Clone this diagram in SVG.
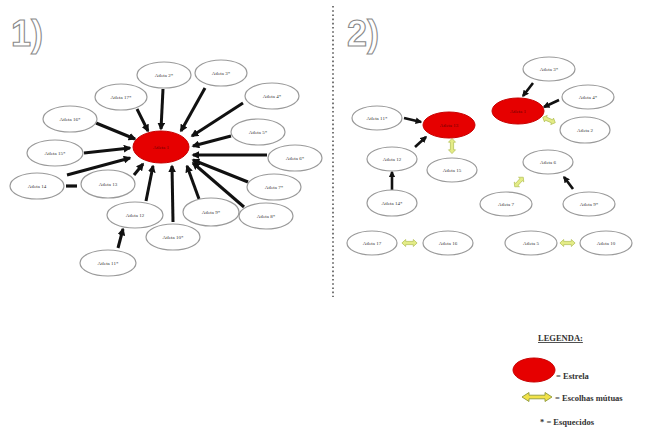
<svg xmlns="http://www.w3.org/2000/svg" xmlns:xlink="http://www.w3.org/1999/xlink" width="645" height="432" viewBox="0 0 645 432">
<style>
.n{fill:#fff;stroke:#9a9a9a;stroke-width:1.2}
.r{fill:#e60000;stroke:#c80000;stroke-width:1}
.t{font-family:"Liberation Serif",serif;font-size:5px;fill:#333;text-anchor:middle}
.tr{font-family:"Liberation Serif",serif;font-size:5px;fill:#600;text-anchor:middle}
.a{stroke:#111;stroke-width:3;fill:none;marker-end:url(#ah)}
.a2{stroke:#111;stroke-width:2.6;fill:none;marker-end:url(#ah)}
.m{fill:#e4ec86;stroke:#b6c35a;stroke-width:0.8}
.big{font-family:"Liberation Sans",sans-serif;font-weight:bold;font-size:36px;fill:#fff;stroke:#8a8a8a;stroke-width:1.1}
.lg{font-family:"Liberation Serif",serif;font-weight:bold;font-size:8.5px;fill:#333}
</style>
<defs>
<marker id="ah" viewBox="0 0 10 10" refX="8" refY="5" markerWidth="2.6" markerHeight="2.6" orient="auto">
<path d="M0,0 L10,5 L0,10 z" fill="#111"/>
</marker>
<path id="mu" d="M-8,0 L-4,-3.5 L-4,-1.6 L4,-1.6 L4,-3.5 L8,0 L4,3.5 L4,1.6 L-4,1.6 L-4,3.5 Z"/>
</defs>
<rect width="645" height="432" fill="#fff"/>
<text class="big" x="11" y="46">1)</text>
<text class="big" x="347" y="46">2)</text>
<line x1="333" y1="6" x2="333" y2="297" stroke="#555" stroke-width="1.6" stroke-dasharray="1.6 2.6"/>

<g id="connectors">
<line class="a" x1="163" y1="89" x2="161" y2="129"/>
<line class="a" x1="205" y1="88" x2="181" y2="131"/>
<line class="a" x1="137" y1="109" x2="148" y2="131"/>
<line class="a" x1="243" y1="103" x2="192" y2="136"/>
<line class="a" x1="96" y1="123" x2="135" y2="139"/>
<line class="a" x1="231" y1="136" x2="193" y2="146"/>
<line class="a" x1="84" y1="153" x2="130" y2="148"/>
<line class="a" x1="267" y1="155" x2="193" y2="155"/>
<line class="a" x1="67" y1="175" x2="130" y2="158"/>
<line x1="66" y1="186" x2="77" y2="186" stroke="#111" stroke-width="3.2"/>
<line class="a" x1="134" y1="175" x2="143" y2="164"/>
<line class="a" x1="146" y1="201" x2="153" y2="166"/>
<line class="a" x1="173" y1="222" x2="172" y2="166"/>
<line class="a" x1="199" y1="199" x2="187" y2="166"/>
<line class="a" x1="244" y1="207" x2="193" y2="163"/>
<line class="a" x1="248" y1="182" x2="193" y2="160"/>
<line class="a" x1="118" y1="248" x2="123" y2="229"/>

<line class="a2" x1="404" y1="118" x2="421" y2="122"/>
<line class="a2" x1="415" y1="147" x2="426" y2="137"/>
<line class="a2" x1="392" y1="190" x2="392" y2="172"/>
<line class="a2" x1="533" y1="83" x2="523" y2="96"/>
<line class="a2" x1="559" y1="100" x2="544" y2="107"/>
<line class="a2" x1="573" y1="189" x2="564" y2="177"/>
<use href="#mu" class="m" transform="translate(452,146) rotate(90) scale(0.95,1)"/>
<use href="#mu" class="m" transform="translate(549,120) rotate(23) scale(0.85,1)"/>
<use href="#mu" class="m" transform="translate(519,182) rotate(132) scale(0.8,1)"/>
<use href="#mu" class="m" transform="translate(409.5,243) scale(0.95,1)"/>
<use href="#mu" class="m" transform="translate(567.5,243) scale(0.95,1)"/>
</g>

<g id="n-center"><ellipse class="r" cx="161" cy="147" rx="28" ry="16"/><text class="tr" x="161" y="149">Atleta 1</text></g>
<g id="n2"><ellipse class="n" cx="164" cy="75" rx="27" ry="13"/><text class="t" x="164" y="77">Atleta 2*</text></g>
<g id="n3"><ellipse class="n" cx="221" cy="73" rx="26" ry="13"/><text class="t" x="221" y="75">Atleta 3*</text></g>
<g id="n17"><ellipse class="n" cx="121" cy="97" rx="26" ry="13"/><text class="t" x="121" y="99">Atleta 17*</text></g>
<g id="n4"><ellipse class="n" cx="272" cy="96" rx="27" ry="13"/><text class="t" x="272" y="98">Atleta 4*</text></g>
<g id="n16"><ellipse class="n" cx="70" cy="119" rx="27" ry="13"/><text class="t" x="70" y="121">Atleta 16*</text></g>
<g id="n5"><ellipse class="n" cx="258" cy="132" rx="27" ry="13"/><text class="t" x="258" y="134">Atleta 5*</text></g>
<g id="n15"><ellipse class="n" cx="55" cy="153" rx="28" ry="13"/><text class="t" x="55" y="155">Atleta 15*</text></g>
<g id="n6"><ellipse class="n" cx="295" cy="158" rx="27" ry="13"/><text class="t" x="295" y="160">Atleta 6*</text></g>
<g id="n14"><ellipse class="n" cx="37" cy="186" rx="27" ry="13"/><text class="t" x="37" y="188">Atleta 14</text></g>
<g id="n13"><ellipse class="n" cx="108" cy="184" rx="27" ry="14"/><text class="t" x="108" y="186">Atleta 13</text></g>
<g id="n7"><ellipse class="n" cx="274" cy="187" rx="27" ry="13"/><text class="t" x="274" y="189">Atleta 7*</text></g>
<g id="n12"><ellipse class="n" cx="135" cy="215" rx="28" ry="13"/><text class="t" x="135" y="217">Atleta 12</text></g>
<g id="n9"><ellipse class="n" cx="211" cy="212" rx="28" ry="14"/><text class="t" x="211" y="214">Atleta 9*</text></g>
<g id="n8"><ellipse class="n" cx="266" cy="216" rx="27" ry="13"/><text class="t" x="266" y="218">Atleta 8*</text></g>
<g id="n10"><ellipse class="n" cx="173" cy="237" rx="27" ry="13"/><text class="t" x="173" y="239">Atleta 10*</text></g>
<g id="n11"><ellipse class="n" cx="108" cy="263" rx="28" ry="13"/><text class="t" x="108" y="265">Atleta 11*</text></g>

<g id="r-red1"><ellipse class="r" cx="449" cy="125" rx="26" ry="13"/><text class="tr" x="449" y="127">Atleta 13</text></g>
<g id="r-red2"><ellipse class="r" cx="518" cy="111" rx="26" ry="13"/><text class="tr" x="518" y="113">Atleta 1</text></g>
<g id="r11"><ellipse class="n" cx="377" cy="118" rx="25" ry="12"/><text class="t" x="377" y="120">Atleta 11*</text></g>
<g id="r3"><ellipse class="n" cx="549" cy="69" rx="26" ry="12"/><text class="t" x="549" y="71">Atleta 3*</text></g>
<g id="r4"><ellipse class="n" cx="588" cy="97" rx="26" ry="12"/><text class="t" x="588" y="99">Atleta 4*</text></g>
<g id="r2"><ellipse class="n" cx="585" cy="130" rx="25" ry="13"/><text class="t" x="585" y="132">Atleta 2</text></g>
<g id="r12"><ellipse class="n" cx="392" cy="159" rx="25" ry="12"/><text class="t" x="392" y="161">Atleta 12</text></g>
<g id="r15"><ellipse class="n" cx="452" cy="170" rx="25" ry="12"/><text class="t" x="452" y="172">Atleta 15</text></g>
<g id="r14"><ellipse class="n" cx="392" cy="203" rx="25" ry="13"/><text class="t" x="392" y="205">Atleta 14*</text></g>
<g id="r6"><ellipse class="n" cx="548" cy="162" rx="25" ry="12"/><text class="t" x="548" y="164">Atleta 6</text></g>
<g id="r7"><ellipse class="n" cx="506" cy="204" rx="26" ry="12"/><text class="t" x="506" y="206">Atleta 7</text></g>
<g id="r9"><ellipse class="n" cx="589" cy="204" rx="26" ry="12"/><text class="t" x="589" y="206">Atleta 9*</text></g>
<g id="r17"><ellipse class="n" cx="372" cy="243" rx="25" ry="12"/><text class="t" x="372" y="245">Atleta 17</text></g>
<g id="r16"><ellipse class="n" cx="448" cy="243" rx="25" ry="12"/><text class="t" x="448" y="245">Atleta 16</text></g>
<g id="r5"><ellipse class="n" cx="531" cy="243" rx="26" ry="12"/><text class="t" x="531" y="245">Atleta 5</text></g>
<g id="r10"><ellipse class="n" cx="606" cy="243" rx="26" ry="12"/><text class="t" x="606" y="245">Atleta 10</text></g>

<g id="legend">
<text class="lg" x="538" y="341" text-decoration="underline">LEGENDA:</text>
<ellipse class="r" cx="534" cy="370" rx="21" ry="12"/>
<text class="lg" x="556" y="379">= Estrela</text>
<path d="M522,397 L529,392.5 L529,395.2 L545,395.2 L545,392.5 L552,397 L545,401.5 L545,398.8 L529,398.8 L529,401.5 Z" fill="#f2e24a" stroke="#8f9a3a" stroke-width="0.9"/>
<text class="lg" x="555" y="401">= Escolhas mútuas</text>
<text class="lg" x="540" y="425">* = Esquecidos</text>
</g>
</svg>
